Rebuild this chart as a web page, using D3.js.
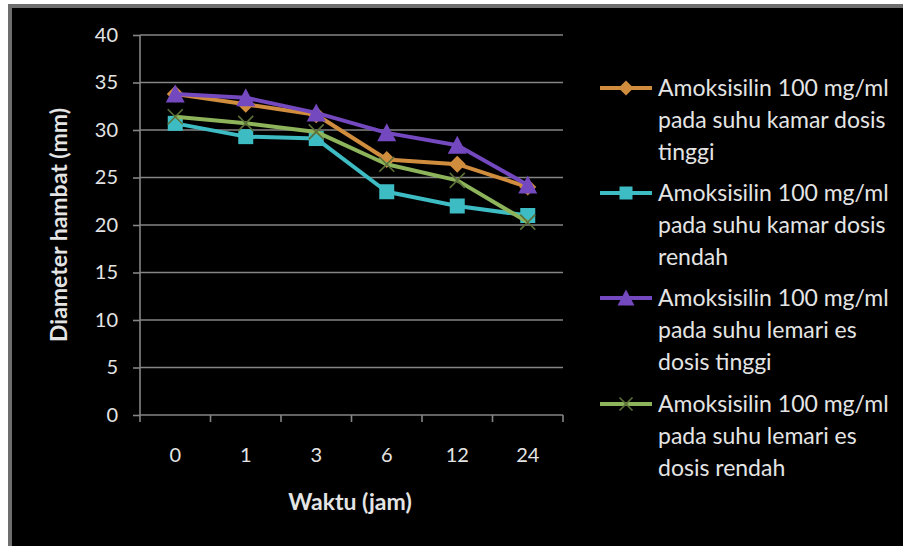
<!DOCTYPE html>
<html>
<head>
<meta charset="utf-8">
<script src="https://cdn.jsdelivr.net/npm/d3@7"></script>
<style>
  html, body { margin: 0; padding: 0; background: #fff; }
  svg { display: block; }
  text { font-family: Lato, "Open Sans", sans-serif; fill: #e4e4e4; }
</style>
</head>
<body>
<script>
// Waktu (jam) categories
const categories = ["0", "1", "3", "6", "12", "24"];

// Diameter hambat (mm) per series
const kamarTinggi  = [33.8, 32.7, 31.6, 26.9, 26.4, 24.0];
const kamarRendah  = [30.7, 29.3, 29.1, 23.5, 22.0, 21.0];
const lemariTinggi = [33.8, 33.4, 31.8, 29.7, 28.4, 24.2];
const lemariRendah = [31.4, 30.7, 29.8, 26.4, 24.7, 20.3];

const seriesNames = [
  ["Amoksisilin 100 mg/ml", "pada suhu kamar dosis", "tinggi"],
  ["Amoksisilin 100 mg/ml", "pada suhu kamar dosis", "rendah"],
  ["Amoksisilin 100 mg/ml", "pada suhu lemari es", "dosis tinggi"],
  ["Amoksisilin 100 mg/ml", "pada suhu lemari es", "dosis rendah"]
];
const yTicks = [0, 5, 10, 15, 20, 25, 30, 35, 40];

const series = [
  { name: seriesNames[0], values: kamarTinggi,  color: "#d18d3e", marker: "diamond" },
  { name: seriesNames[1], values: kamarRendah,  color: "#3dbcc4", marker: "square" },
  { name: seriesNames[2], values: lemariTinggi, color: "#7448bf", marker: "triangle" },
  { name: seriesNames[3], values: lemariRendah, color: "#8db45a", marker: "cross" }
];

const W = 903, H = 546;
const svg = d3.select("body").append("svg").attr("width", W).attr("height", H);

// page and chart frame
svg.append("rect").attr("width", W).attr("height", H).attr("fill", "#fff");
svg.append("rect").attr("x", 8).attr("y", 4).attr("width", W).attr("height", H)
  .attr("fill", "#6e6e6e");
svg.append("rect").attr("x", 12).attr("y", 8).attr("width", W).attr("height", H)
  .attr("fill", "#000");

const plot = { left: 140, right: 563, top: 35, bottom: 415 };

const x = d3.scaleBand().domain(categories).range([plot.left, plot.right]).padding(0);
const y = d3.scaleLinear().domain([0, 40]).range([plot.bottom, plot.top]);

const gridColor = "#858585";

// horizontal gridlines
svg.append("g").selectAll("line").data(yTicks.filter(d => d > 0)).join("line")
  .attr("x1", plot.left).attr("x2", plot.right)
  .attr("y1", d => y(d)).attr("y2", d => y(d))
  .attr("stroke", gridColor).attr("stroke-width", 1.6);

// y axis
const yAxis = svg.append("g").attr("transform", `translate(${plot.left},0)`)
  .call(d3.axisLeft(y).tickValues(yTicks).tickSize(7).tickPadding(15));
yAxis.select(".domain").attr("stroke", gridColor).attr("stroke-width", 1.6)
  .attr("d", `M0,${plot.top}V${plot.bottom}`);
yAxis.selectAll(".tick line").attr("stroke", gridColor).attr("stroke-width", 1.6);
yAxis.selectAll(".tick text").attr("font-size", 20).style("font-family", "Lato, sans-serif")
  .attr("fill", "#e4e4e4");

// x axis with ticks on category boundaries
const xAxis = svg.append("g").attr("transform", `translate(0,${plot.bottom})`);
xAxis.append("line").attr("x1", plot.left).attr("x2", plot.right)
  .attr("stroke", gridColor).attr("stroke-width", 1.6);
const bounds = categories.map(c => x(c)).concat([x(categories[categories.length - 1]) + x.bandwidth()]);
xAxis.selectAll("line.tk").data(bounds).join("line").attr("class", "tk")
  .attr("x1", d => d).attr("x2", d => d).attr("y1", 0).attr("y2", 7)
  .attr("stroke", gridColor).attr("stroke-width", 1.6);
xAxis.selectAll("text").data(categories).join("text")
  .attr("x", d => x(d) + x.bandwidth() / 2).attr("y", 47)
  .attr("text-anchor", "middle").attr("font-size", 20).text(d => d);

// axis titles
svg.append("text").attr("x", 350).attr("y", 510).attr("text-anchor", "middle")
  .attr("font-size", 23).attr("font-weight", "bold").text("Waktu (jam)");
svg.append("text").attr("transform", "translate(67,225) rotate(-90)")
  .attr("text-anchor", "middle").attr("font-size", 23).attr("font-weight", "bold")
  .text("Diameter hambat (mm)");

// marker drawing
function drawMarker(g, type, color, size) {
  const s = size / 2;
  if (type === "diamond") {
    g.append("path").attr("d", `M0,${-s}L${s},0L0,${s}L${-s},0Z`).attr("fill", color);
  } else if (type === "square") {
    g.append("rect").attr("x", -s + 1).attr("y", -s + 1).attr("width", size - 2).attr("height", size - 2)
      .attr("fill", color);
  } else if (type === "triangle") {
    g.append("path").attr("d", `M0,${-s - 1}L${s + 1},${s}L${-s - 1},${s}Z`).attr("fill", color);
  } else if (type === "cross") {
    const c = s - 1;
    g.append("path").attr("d", `M${-c},${-c}L${c},${c}M${-c},${c}L${c},${-c}`)
      .attr("stroke", "#5c6f38").attr("stroke-width", 1.6).attr("fill", "none");
  }
}

const line = d3.line().x((d, i) => x(categories[i]) + x.bandwidth() / 2).y(d => y(d));

series.forEach(s => {
  const g = svg.append("g");
  g.append("path").attr("d", line(s.values)).attr("fill", "none")
    .attr("stroke", s.color).attr("stroke-width", 4).attr("stroke-linejoin", "round");
  s.values.forEach((v, i) => {
    const m = g.append("g").attr("transform",
      `translate(${x(categories[i]) + x.bandwidth() / 2},${y(v)})`);
    drawMarker(m, s.marker, s.color, 17);
  });
});

// legend
const legendTop = [88, 193, 298, 404];
series.forEach((s, k) => {
  const g = svg.append("g").attr("transform", `translate(0,${legendTop[k]})`);
  g.append("line").attr("x1", 600).attr("x2", 652).attr("y1", 0).attr("y2", 0)
    .attr("stroke", s.color).attr("stroke-width", 4);
  const m = g.append("g").attr("transform", "translate(626,0)");
  drawMarker(m, s.marker, s.color, 15);
  s.name.forEach((t, j) => {
    g.append("text").attr("x", 658).attr("y", j * 32 + 8).attr("font-size", 23).text(t);
  });
});
</script>
</body>
</html>
